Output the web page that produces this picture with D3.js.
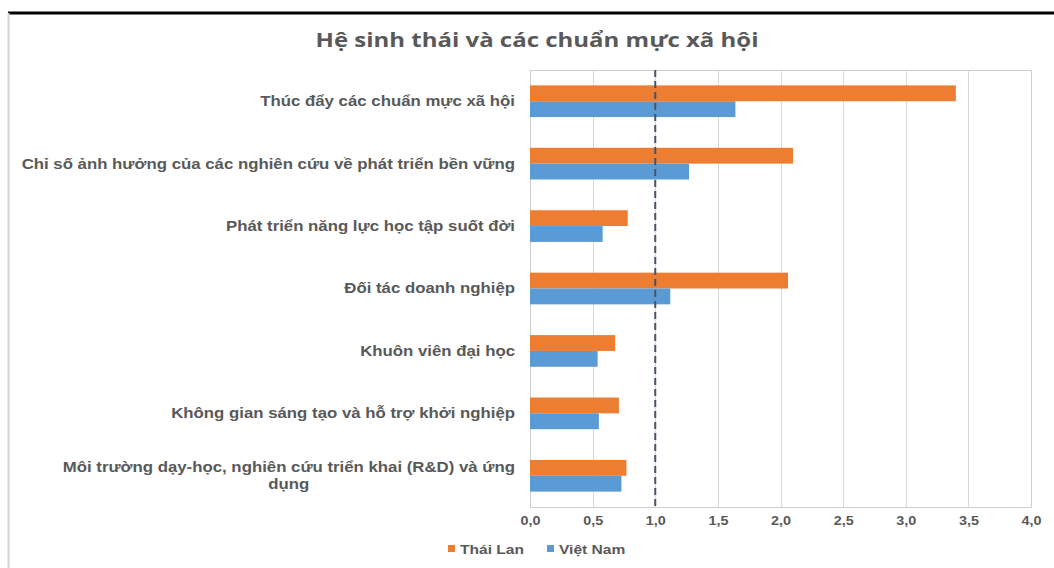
<!DOCTYPE html>
<html lang="vi">
<head>
<meta charset="utf-8">
<title>Hệ sinh thái và các chuẩn mực xã hội</title>
<script src="https://cdn.jsdelivr.net/npm/d3@7"></script>
<style>
  html, body { margin: 0; padding: 0; background: #ffffff; }
  svg { display: block; }
</style>
</head>
<body>
<svg id="chart" width="1054" height="568"></svg>
<script>
// Categories, top to bottom
const categories = [
  "Thúc đẩy các chuẩn mực xã hội",
  "Chỉ số ảnh hưởng của các nghiên cứu về phát triển bền vững",
  "Phát triển năng lực học tập suốt đời",
  "Đối tác doanh nghiệp",
  "Khuôn viên đại học",
  "Không gian sáng tạo và hỗ trợ khởi nghiệp",
  "Môi trường dạy-học, nghiên cứu triển khai (R&D) và ứng\ndụng"
];
const seriesNames = ["Thái Lan", "Việt Nam"];
const thaiLan = [3.40, 2.10, 0.78, 2.06, 0.68, 0.71, 0.77];
const vietNam = [1.64, 1.27, 0.58, 1.12, 0.54, 0.55, 0.73];
const tickValues = [0, 0.5, 1, 1.5, 2, 2.5, 3, 3.5, 4];
const referenceValue = 1.0;

const colors = { "Thái Lan": "#ED7D31", "Việt Nam": "#5B9BD5" };
const textColor = "#595959";
const labelFont = "'Liberation Sans', Arial, sans-serif";
const stretch = 1.2; // horizontal stretch applied to all chart text

const rows = categories.map((c, i) => ({
  category: c,
  values: [
    { series: "Thái Lan", value: thaiLan[i] },
    { series: "Việt Nam", value: vietNam[i] }
  ]
}));

const svg = d3.select("#chart");
const plot = { left: 530, right: 1031, top: 70, bottom: 507 };

// frame of the chart card
svg.append("line")
  .attr("x1", 8).attr("x2", 1054).attr("y1", 13).attr("y2", 13)
  .attr("stroke", "#000").attr("stroke-width", 3);
svg.append("line")
  .attr("x1", 8.5).attr("x2", 8.5).attr("y1", 13).attr("y2", 568)
  .attr("stroke", "#d4d4d4").attr("stroke-width", 2);

// title
svg.append("g")
  .attr("transform", `translate(537,47) scale(${stretch},1)`)
  .append("text")
  .attr("text-anchor", "middle")
  .attr("font-family", "'Open Sans', 'Noto Sans', sans-serif")
  .attr("font-weight", 700)
  .attr("font-size", 20)
  .attr("fill", textColor)
  .text("Hệ sinh thái và các chuẩn mực xã hội");

const x = d3.scaleLinear().domain([0, 4]).range([plot.left, plot.right]);
const y = d3.scaleBand().domain(categories).range([plot.top, plot.bottom]).padding(0);
const ySub = d3.scaleBand().domain(seriesNames).range([0, y.bandwidth()]).paddingOuter(0.97).paddingInner(0);

// vertical gridlines
svg.append("g")
  .selectAll("line")
  .data(tickValues)
  .join("line")
  .attr("x1", d => Math.round(x(d)) + 0.5).attr("x2", d => Math.round(x(d)) + 0.5)
  .attr("y1", plot.top).attr("y2", plot.bottom)
  .attr("stroke", "#d9d9d9").attr("stroke-width", 1);

// plot area border
svg.append("rect")
  .attr("x", plot.left + 0.5).attr("y", plot.top + 0.5)
  .attr("width", plot.right - plot.left).attr("height", plot.bottom - plot.top)
  .attr("fill", "none").attr("stroke", "#cfcfcf").attr("stroke-width", 1);

// bars
const groups = svg.append("g")
  .selectAll("g")
  .data(rows)
  .join("g")
  .attr("transform", d => `translate(0,${y(d.category)})`);

groups.selectAll("rect")
  .data(d => d.values)
  .join("rect")
  .attr("x", x(0))
  .attr("y", d => ySub(d.series))
  .attr("width", d => x(d.value) - x(0))
  .attr("height", ySub.bandwidth())
  .attr("fill", d => colors[d.series]);

// reference line at 1.0
svg.append("line")
  .attr("x1", x(referenceValue)).attr("x2", x(referenceValue))
  .attr("y1", plot.top).attr("y2", plot.bottom)
  .attr("stroke", "#44546A").attr("stroke-width", 2)
  .attr("stroke-dasharray", "7,4");

// x axis
const xAxis = d3.axisBottom(x)
  .tickValues(tickValues)
  .tickSize(0)
  .tickPadding(9)
  .tickFormat(d => d3.format(".1f")(d).replace(".", ","));
const gx = svg.append("g")
  .attr("transform", `translate(0,${plot.bottom})`)
  .call(xAxis);
gx.select(".domain").remove();
gx.selectAll("text")
  .attr("transform", `scale(${stretch},1)`)
  .attr("font-family", labelFont)
  .attr("font-weight", 700)
  .attr("font-size", 12)
  .attr("fill", textColor);

// y axis labels (right aligned, multi-line centred within block)
const yAxis = d3.axisLeft(y).tickSize(0).tickPadding(15);
const gy = svg.append("g")
  .attr("transform", `translate(${plot.left},0)`)
  .call(yAxis);
gy.select(".domain").remove();
gy.selectAll(".tick text").each(function(d) {
  const t = d3.select(this);
  const lines = d.split("\n");
  const x0 = -15 / stretch;
  t.text(null)
    .attr("transform", `scale(${stretch},1)`)
    .attr("x", x0)
    .attr("font-family", labelFont)
    .attr("font-weight", 700)
    .attr("font-size", 14)
    .attr("fill", textColor)
    .attr("dy", null);
  if (lines.length === 1) {
    t.attr("dy", "0.35em").text(lines[0]);
    return;
  }
  const lh = 17;
  const spans = lines.map((ln, i) => t.append("tspan")
    .attr("x", x0)
    .attr("y", (i - (lines.length - 1) / 2) * lh)
    .attr("dy", "0.35em")
    .text(ln));
  const widths = spans.map(s => s.node().getComputedTextLength());
  const maxW = d3.max(widths);
  spans.forEach(s => {
    s.attr("text-anchor", "middle").attr("x", x0 - maxW / 2);
  });
});

// legend
const legendItems = [
  { name: "Thái Lan", x: 448 },
  { name: "Việt Nam", x: 547 }
];
const legend = svg.append("g").selectAll("g")
  .data(legendItems)
  .join("g")
  .attr("transform", d => `translate(${d.x},549)`);
legend.append("rect")
  .attr("x", 0).attr("y", -4)
  .attr("width", 7).attr("height", 7)
  .attr("fill", d => colors[d.name]);
legend.append("text")
  .attr("transform", `scale(${stretch},1)`)
  .attr("x", 12 / stretch).attr("y", 0).attr("dy", "0.35em")
  .attr("font-family", labelFont)
  .attr("font-weight", 700)
  .attr("font-size", 13)
  .attr("fill", textColor)
  .text(d => d.name);
</script>
</body>
</html>
